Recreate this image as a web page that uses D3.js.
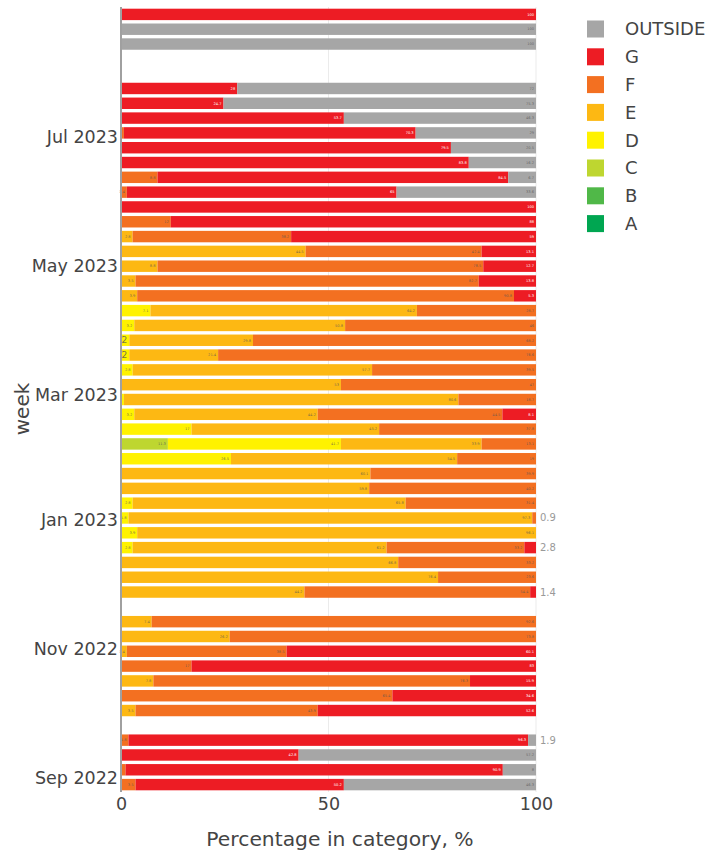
<!DOCTYPE html>
<html>
<head>
<meta charset="utf-8">
<script src="https://cdn.jsdelivr.net/npm/d3@7"></script>
<style>
  body { margin: 0; background: #fff; }
  text { font-family: "DejaVu Sans", Verdana, sans-serif; }
</style>
</head>
<body>
<div id="graph"></div>
<script>
// weekly rows, oldest first
const weeks = ["2022-08-29","2022-09-05","2022-09-12","2022-09-19","2022-10-03","2022-10-10","2022-10-17","2022-10-24","2022-10-31","2022-11-07",
  "2022-11-14","2022-11-28","2022-12-05","2022-12-12","2022-12-19","2022-12-26","2023-01-02","2023-01-09","2023-01-16","2023-01-23",
  "2023-01-30","2023-02-06","2023-02-13","2023-02-20","2023-02-27","2023-03-06","2023-03-13","2023-03-20","2023-03-27","2023-04-03",
  "2023-04-10","2023-04-17","2023-04-24","2023-05-01","2023-05-08","2023-05-15","2023-05-22","2023-05-29","2023-06-05","2023-06-12",
  "2023-06-19","2023-06-26","2023-07-03","2023-07-10","2023-07-17","2023-07-24","2023-08-14","2023-08-21","2023-08-28"];

const catA = [0,0,0,0,0,0,0,0,0,0, 0,0,0,0,0,0,0,0,0,0, 0,0,0,0,0,0,0,0,0,0, 0,0,0,0,0,0,0,0,0,0, 0,0,0,0,0,0,0,0,0];
const catB = [0,0,0,0,0,0,0,0,0,0, 0,0,0,0,0,0,0,0,0,0, 0,0,0,0,0,0,0,0,0,0, 0,0,0,0,0,0,0,0,0,0, 0,0,0,0,0,0,0,0,0];
const catC = [0,0,0,0,0,0,0,0,0,0, 0,0,0,0,0,0,0,0,0,0, 0,11.3,0,0,0,0,0,0,0,0, 0,0,0,0,0,0,0,0,0,0, 0,0,0,0,0,0,0,0,0];
const catD = [0,0,0,0,0,0,0,0,0,0, 0,0,0,0,2.8,3.9,1.8,2.8,0,0, 26.5,41.7,17.0,3.2,0.7,0,2.8,2,2,3.2, 7.1,0,0,0,0,0,0,0,0,0, 0,0,0,0,0,0,0,0,0];
const catE = [0,0,0,0,3.5,0,7.8,0,1.4,26.2, 7.4,44.2,76.4,66.8,61.2,96.1,97.3,65.8,59.8,60.1, 54.5,33.9,45.2,44.2,80.6,53.0,57.7,21.4,29.8,50.8,
  64.2,3.9,3.5,8.8,44.5,2.8,0,0,0,0, 0,0,0,0,0,0,0,0,0];
const catF = [3.5,1.1,0,1.8,43.9,65.4,76.3,17.0,38.5,73.8, 92.6,54.4,23.6,33.2,33.2,0,0.9,31.4,40.2,39.9, 19.0,13.1,37.8,44.5,18.7,47.0,39.5,76.6,68.2,46.0,
  28.7,90.8,82.7,78.5,42.4,38.2,12.0,0,1.4,8.8, 0,0,0.7,0,0,0,0,0,0];
const catG = [50.2,90.9,42.8,96.3,52.6,34.6,15.9,83.0,60.1,0, 0,1.4,0,0,2.8,0,0,0,0,0, 0,0,0,8.1,0,0,0,0,0,0,
  0,5.3,13.8,12.7,13.1,59.0,88.0,100,65.0,84.5, 83.8,79.5,70.3,53.7,24.7,28.0,0,0,100];
const catOutside = [46.3,8.0,57.2,1.9,0,0,0,0,0,0, 0,0,0,0,0,0,0,0,0,0, 0,0,0,0,0,0,0,0,0,0,
  0,0,0,0,0,0,0,0,33.6,6.7, 16.2,20.5,29.0,46.3,75.3,72.0,100,100,0];

const keys = ["A","B","C","D","E","F","G","OUTSIDE"];
const colors = ["#00a651","#50b848","#bed630","#fff200","#fdb813","#f37021","#ed1c24","#a6a6a6"];
const xTicks = [0, 50, 100];

const parseDate = d3.timeParse("%Y-%m-%d");
const rows = weeks.map(function(w, i) {
  return { week: parseDate(w), A: catA[i], B: catB[i], C: catC[i], D: catD[i], E: catE[i], F: catF[i], G: catG[i], OUTSIDE: catOutside[i] };
});

const W = 708, H = 853;
const plotLeft = 121, plotRight = 536, plotTop = 7, plotBottom = 792;

const svg = d3.select("#graph").append("svg")
  .attr("width", W)
  .attr("height", H);

const color = d3.scaleOrdinal().domain(keys).range(colors);

const x = d3.scaleLinear().domain([0, 100]).range([plotLeft, plotRight]);

const day = 24 * 3600 * 1000;
const y = d3.scaleTime()
  .domain([new Date(rows[0].week.getTime() - 3.5 * day), new Date(rows[rows.length - 1].week.getTime() + 3.5 * day)])
  .range([plotBottom, plotTop]);

// vertical grid
svg.append("g")
  .selectAll("line")
  .data(xTicks.filter(t => t > 0))
  .enter().append("line")
  .attr("x1", d => x(d)).attr("x2", d => x(d))
  .attr("y1", plotTop).attr("y2", plotBottom)
  .attr("stroke", "#ebebeb")
  .attr("stroke-width", 1);

const stacked = d3.stack().keys(keys)(rows);

const barHalf = 2.7 * day;
const layers = svg.append("g").selectAll("g")
  .data(stacked)
  .enter().append("g")
  .attr("fill", d => color(d.key));

layers.selectAll("rect")
  .data(d => d.filter(s => s[1] - s[0] > 0))
  .enter().append("rect")
  .attr("x", d => x(d[0]))
  .attr("width", d => x(d[1]) - x(d[0]))
  .attr("y", d => y(new Date(d.data.week.getTime() + barHalf)))
  .attr("height", d => y(new Date(d.data.week.getTime() - barHalf)) - y(new Date(d.data.week.getTime() + barHalf)));

// value labels
const fmt = d3.format(".3~");
const labels = [];
stacked.forEach(function(layer) {
  layer.forEach(function(s) {
    const v = s[1] - s[0];
    if (v <= 0) return;
    const lastKey = keys.filter(k => s.data[k] > 0).pop();
    const outside = layer.key === lastKey && v < 3;
    if (!outside && v < 1.2) return;
    labels.push({ key: layer.key, v: v, end: s[1], week: s.data.week, outside: outside });
  });
});

svg.append("g").selectAll("text")
  .data(labels)
  .enter().append("text")
  .attr("x", d => d.outside ? x(100) + 4 : x(d.end) - 2)
  .attr("y", d => y(d.week))
  .attr("dy", "0.35em")
  .attr("text-anchor", d => d.outside ? "start" : "end")
  .attr("font-size", d => d.outside ? 10 : (fmt(d.v).length === 1 && d.v < 3 ? 9 : 3.6))
  .attr("fill", d => d.outside ? "#999" : (d.key === "G" ? "#fff" : "#555"))
  .attr("fill-opacity", d => d.outside || d.key === "G" ? 1 : 0.8)
  .text(d => fmt(d.v));

// zero line
svg.append("line")
  .attr("x1", x(0)).attr("x2", x(0))
  .attr("y1", plotTop).attr("y2", plotBottom)
  .attr("stroke", "#a0a0a0")
  .attr("stroke-width", 2);

// y axis
const yAxis = d3.axisLeft(y)
  .ticks(d3.timeMonth.every(2))
  .tickFormat(d3.timeFormat("%b %Y"))
  .tickSize(0)
  .tickPadding(3);
const gy = svg.append("g")
  .attr("transform", "translate(" + plotLeft + ",0)")
  .call(yAxis);
gy.select(".domain").remove();
gy.selectAll("text")
  .attr("font-family", "DejaVu Sans")
  .attr("font-size", 17.5)
  .attr("fill", "#444");

// x axis
const xAxis = d3.axisBottom(x).tickValues(xTicks).tickSize(0).tickPadding(6);
const gx = svg.append("g")
  .attr("transform", "translate(0," + plotBottom + ")")
  .call(xAxis);
gx.select(".domain").remove();
gx.selectAll("text")
  .attr("font-family", "DejaVu Sans")
  .attr("font-size", 17.5)
  .attr("fill", "#444");

svg.append("text")
  .attr("x", 340)
  .attr("y", 846)
  .attr("text-anchor", "middle")
  .attr("font-size", 20.3)
  .attr("fill", "#444")
  .text("Percentage in category, %");

svg.append("text")
  .attr("transform", "translate(29,409) rotate(-90)")
  .attr("text-anchor", "middle")
  .attr("font-size", 20)
  .attr("fill", "#444")
  .text("week");

// legend, top entry first
const legendKeys = keys.slice().reverse();
const legend = svg.append("g").selectAll("g")
  .data(legendKeys)
  .enter().append("g")
  .attr("transform", (d, i) => "translate(587," + (29 + i * 27.8) + ")");

legend.append("rect")
  .attr("x", 0).attr("y", -8.5)
  .attr("width", 17).attr("height", 17)
  .attr("fill", d => color(d));

legend.append("text")
  .attr("x", 38)
  .attr("dy", "0.35em")
  .attr("font-size", 18)
  .attr("fill", "#444")
  .text(d => d);
</script>
</body>
</html>
